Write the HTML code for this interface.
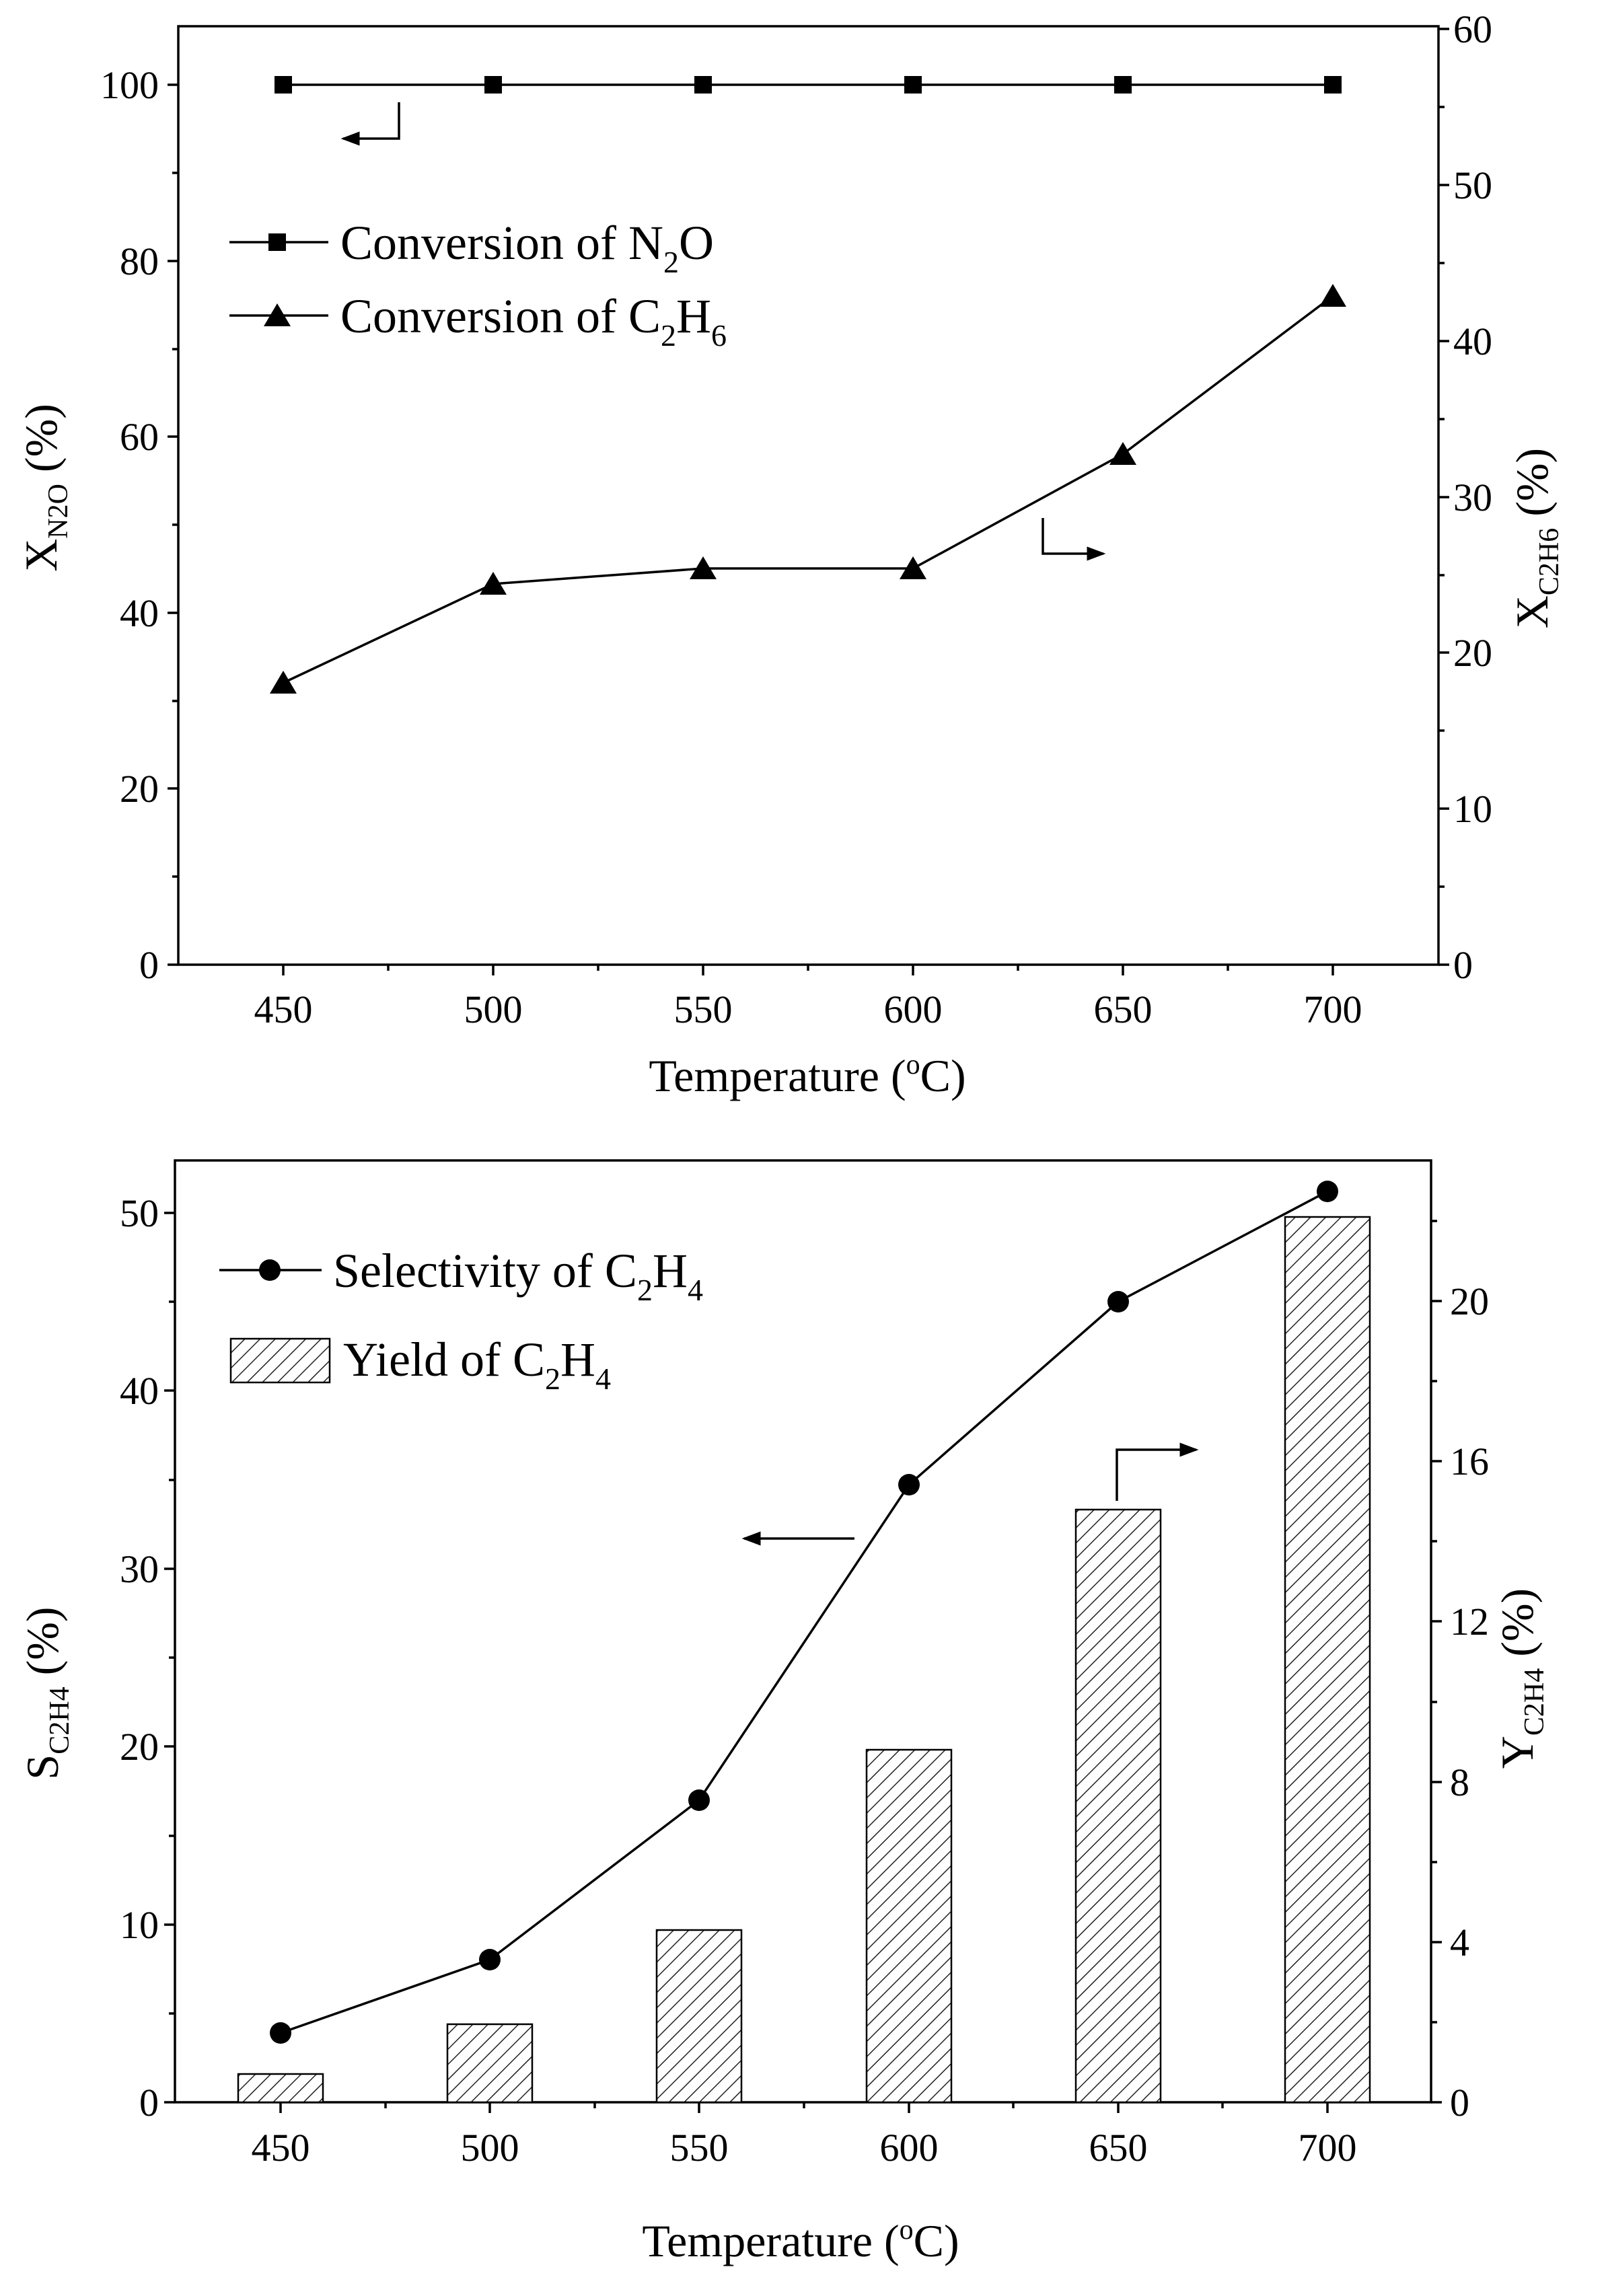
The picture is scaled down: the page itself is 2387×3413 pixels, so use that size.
<!DOCTYPE html>
<html><head><meta charset="utf-8"><style>body{margin:0;background:#fff}svg{display:block}</style></head>
<body>
<svg width="2387" height="3413" viewBox="0 0 2387 3413" xmlns="http://www.w3.org/2000/svg" font-family="Liberation Serif, serif" fill="#000">
<defs>
<pattern id="h" width="16" height="16" patternUnits="userSpaceOnUse" patternTransform="rotate(45)">
<rect width="16" height="16" fill="#fff"/><line x1="0" y1="0" x2="0" y2="16" stroke="#222" stroke-width="3"/>
</pattern>
<marker id="ah" markerWidth="8" markerHeight="8" refX="7" refY="4" orient="auto" markerUnits="strokeWidth"><path d="M0,1 L8,4 L0,7 Z" fill="#000"/></marker>
</defs>
<g stroke="#000" stroke-width="3.5" fill="none">
<rect x="265" y="39" width="1873" height="1395"/>
<path d="M265 1434h-16M265 1172h-16M265 911h-16M265 649h-16M265 388h-16M265 126h-16M265 1303h-9M265 1042h-9M265 780h-9M265 519h-9M265 257h-9"/>
<path d="M2138 1434h16M2138 1202h16M2138 970h16M2138 739h16M2138 507h16M2138 275h16M2138 43h16M2138 1318h9M2138 1086h9M2138 855h9M2138 623h9M2138 391h9M2138 159h9"/>
<path d="M421 1434v16M733 1434v16M1045 1434v16M1357 1434v16M1669 1434v16M1981 1434v16M577 1434v9M889 1434v9M1201 1434v9M1513 1434v9M1825 1434v9"/>
<polyline points="421,126 1981,126"/>
<polyline points="421,1015 733,868 1045,845 1357,845 1669,675 1981,440"/>
<line x1="341" y1="360" x2="488" y2="360"/>
<line x1="341" y1="469" x2="488" y2="469"/>
<path d="M593 152V206H510" marker-end="url(#ah)"/>
<path d="M1550 770V823H1640" marker-end="url(#ah)"/>
<rect x="260" y="1725" width="1867" height="1400"/>
<path d="M260 3125h-16M260 2861h-16M260 2596h-16M260 2332h-16M260 2067h-16M260 1803h-16M260 2993h-9M260 2729h-9M260 2464h-9M260 2200h-9M260 1935h-9"/>
<path d="M2127 3125h16M2127 2887h16M2127 2649h16M2127 2410h16M2127 2172h16M2127 1934h16M2127 3006h9M2127 2768h9M2127 2530h9M2127 2291h9M2127 2053h9M2127 1815h9"/>
<path d="M417 3125v16M728 3125v16M1039 3125v16M1351 3125v16M1662 3125v16M1973 3125v16M573 3125v9M884 3125v9M1195 3125v9M1506 3125v9M1817 3125v9"/>
</g>
<g fill="url(#h)" stroke="#000" stroke-width="2.5">
<rect x="354" y="3083" width="126" height="42"/>
<rect x="665" y="3009" width="126" height="116"/>
<rect x="976" y="2869" width="126" height="256"/>
<rect x="1288" y="2601" width="126" height="524"/>
<rect x="1599" y="2244" width="126" height="881"/>
<rect x="1910" y="1809" width="126" height="1316"/>
<rect x="343" y="1990" width="147" height="65"/>
</g>
<g stroke="#000" stroke-width="3.5" fill="none">
<polyline points="417,3022 728,2913 1039,2676 1351,2207 1662,1935 1973,1771"/>
<line x1="326" y1="1888" x2="478" y2="1888"/>
<path d="M1270 2287H1106" marker-end="url(#ah)"/>
<path d="M1660 2231V2155H1778" marker-end="url(#ah)"/>
</g>
<g>
<rect x="408" y="113" width="26" height="26"/><rect x="720" y="113" width="26" height="26"/><rect x="1032" y="113" width="26" height="26"/><rect x="1344" y="113" width="26" height="26"/><rect x="1656" y="113" width="26" height="26"/><rect x="1968" y="113" width="26" height="26"/>
<rect x="399" y="347" width="26" height="26"/>
<path d="M421 997l20 34h-40zM733 850l20 34h-40zM1045 827l20 34h-40zM1357 827l20 34h-40zM1669 657l20 34h-40zM1981 422l20 34h-40zM412 451l20 34h-40z"/>
<circle cx="417" cy="3022" r="16"/><circle cx="728" cy="2913" r="16"/><circle cx="1039" cy="2676" r="16"/><circle cx="1351" cy="2207" r="16"/><circle cx="1662" cy="1935" r="16"/><circle cx="1973" cy="1771" r="16"/><circle cx="401" cy="1888" r="16"/>
</g>
<g font-size="58">
<g text-anchor="end">
<text x="236" y="1454">0</text><text x="236" y="1192">20</text><text x="236" y="931">40</text><text x="236" y="669">60</text><text x="236" y="408">80</text><text x="236" y="146">100</text>
<text x="236" y="3145">0</text><text x="236" y="2881">10</text><text x="236" y="2616">20</text><text x="236" y="2352">30</text><text x="236" y="2087">40</text><text x="236" y="1823">50</text>
</g>
<g text-anchor="start">
<text x="2160" y="1454">0</text><text x="2160" y="1222">10</text><text x="2160" y="990">20</text><text x="2160" y="759">30</text><text x="2160" y="527">40</text><text x="2160" y="295">50</text><text x="2160" y="63">60</text>
<text x="2155" y="3145">0</text><text x="2155" y="2907">4</text><text x="2155" y="2669">8</text><text x="2155" y="2430">12</text><text x="2155" y="2192">16</text><text x="2155" y="1954">20</text>
</g>
<g text-anchor="middle">
<text x="421" y="1520">450</text><text x="733" y="1520">500</text><text x="1045" y="1520">550</text><text x="1357" y="1520">600</text><text x="1669" y="1520">650</text><text x="1981" y="1520">700</text>
<text x="417" y="3212">450</text><text x="728" y="3212">500</text><text x="1039" y="3212">550</text><text x="1351" y="3212">600</text><text x="1662" y="3212">650</text><text x="1973" y="3212">700</text>
</g>
</g>
<g font-size="72">
<text x="506" y="385">Conversion of N<tspan font-size="46" dy="20">2</tspan><tspan dy="-20">O</tspan></text>
<text x="506" y="494">Conversion of C<tspan font-size="46" dy="20">2</tspan><tspan dy="-20">H</tspan><tspan font-size="46" dy="20">6</tspan></text>
<text x="495" y="1913">Selectivity of C<tspan font-size="46" dy="20">2</tspan><tspan dy="-20">H</tspan><tspan font-size="46" dy="20">4</tspan></text>
<text x="510" y="2045">Yield of C<tspan font-size="46" dy="20">2</tspan><tspan dy="-20">H</tspan><tspan font-size="46" dy="20">4</tspan></text>
</g>
<g font-size="68" text-anchor="middle">
<text x="1200" y="1622">Temperature (<tspan font-size="42" dy="-26">o</tspan><tspan dy="26">C)</tspan></text>
<text x="1190" y="3354">Temperature (<tspan font-size="42" dy="-26">o</tspan><tspan dy="26">C)</tspan></text>
<text transform="translate(84,725) rotate(-90)">X<tspan font-size="42" dy="16">N2O</tspan><tspan dy="-16"> (%)</tspan></text>
<text transform="translate(2300,800) rotate(-90)">X<tspan font-size="42" dy="16">C2H6</tspan><tspan dy="-16"> (%)</tspan></text>
<text transform="translate(86,2517) rotate(-90)">S<tspan font-size="42" dy="16">C2H4</tspan><tspan dy="-16"> (%)</tspan></text>
<text transform="translate(2278,2495) rotate(-90)">Y<tspan font-size="42" dy="16">C2H4</tspan><tspan dy="-16"> (%)</tspan></text>
</g>
</svg>
</body></html>
